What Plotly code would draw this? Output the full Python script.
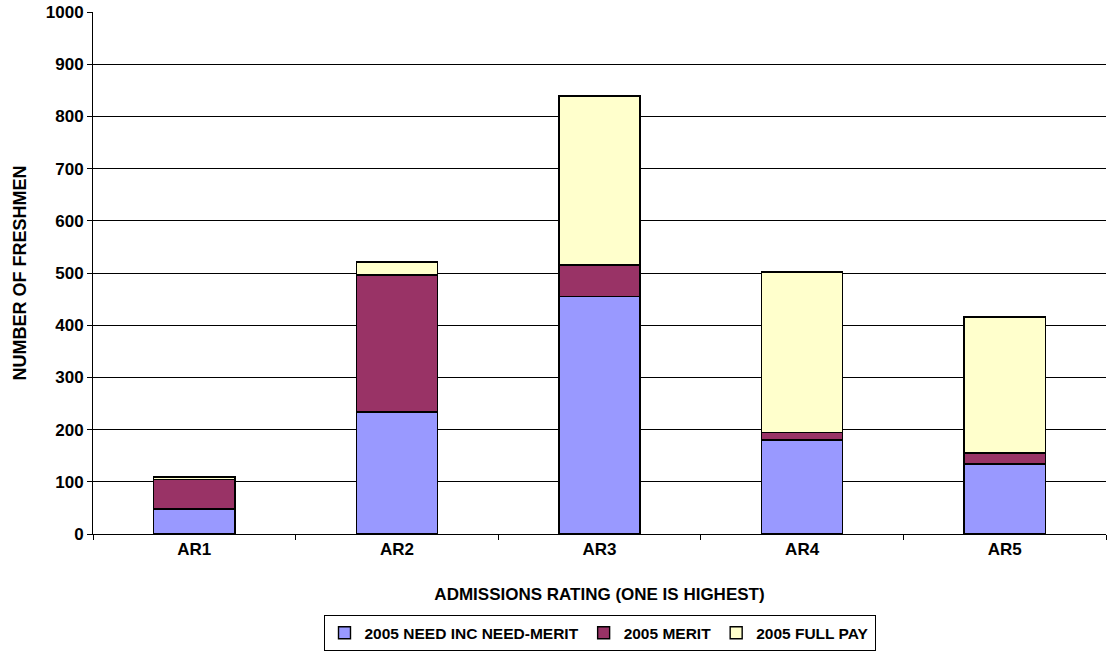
import plotly.graph_objects as go

categories = ["AR1", "AR2", "AR3", "AR4", "AR5"]
need_merit = [48, 234, 455, 180, 134]
merit = [56, 262, 60, 14, 21]
full_pay = [5, 25, 324, 308, 261]

series = [
    ("2005 NEED INC NEED-MERIT", need_merit, "#9999FF"),
    ("2005 MERIT", merit, "#993366"),
    ("2005 FULL PAY", full_pay, "#FFFFCC"),
]

FONT = "Liberation Sans, Arial, sans-serif"

fig = go.Figure()
for name, vals, color in series:
    fig.add_trace(go.Bar(
        x=categories, y=vals, name=name, width=0.4,
        marker=dict(color=color, line=dict(color="black", width=1.4)),
    ))

fig.update_layout(
    barmode="stack",
    width=1107, height=653,
    paper_bgcolor="white", plot_bgcolor="white",
    margin=dict(l=93, r=1, t=12, b=119, autoexpand=False),
    font=dict(family=FONT, color="black"),
    showlegend=True,
    legend=dict(
        orientation="h", x=0.5, xanchor="center", xref="paper",
        y=0.058, yanchor="top", yref="container",
        bordercolor="black", borderwidth=1,
        font=dict(size=15.5, family=FONT, color="black", weight="bold"),
        traceorder="normal", itemwidth=30,
    ),
    xaxis=dict(
        title=dict(text="ADMISSIONS RATING (ONE IS HIGHEST)",
                   font=dict(size=17, family=FONT, weight="bold"), standoff=29),
        tickfont=dict(size=17, family=FONT, weight="bold"),
        automargin=False,
        showline=True, linecolor="black", linewidth=1,
        ticks="outside", ticklen=5, tickcolor="black", tickson="boundaries",
        showgrid=False,
    ),
    yaxis=dict(
        title=dict(text="NUMBER OF FRESHMEN",
                   font=dict(size=18, family=FONT, weight="bold"), standoff=14),
        tickfont=dict(size=17, family=FONT, weight="bold"),
        automargin=False,
        range=[0, 1000], dtick=100,
        showline=True, linecolor="black", linewidth=1,
        ticks="outside", ticklen=5, tickcolor="black",
        showgrid=True, gridcolor="black", gridwidth=1,
        zeroline=False,
    ),
)

fig.write_html("out.html")
